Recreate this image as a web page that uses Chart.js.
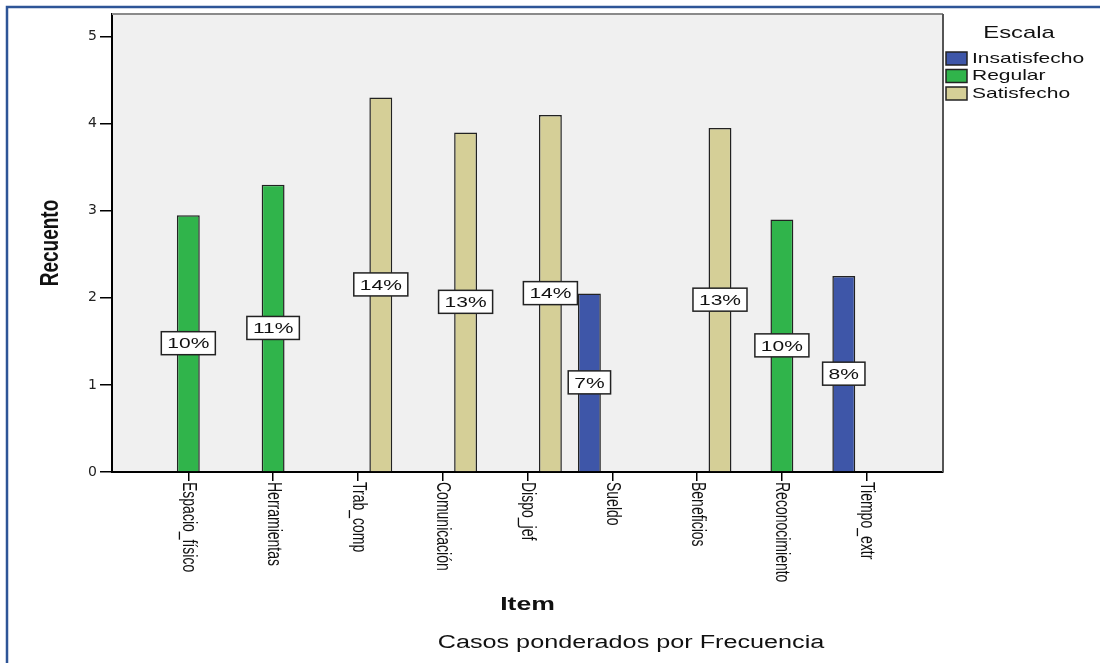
<!DOCTYPE html>
<html>
<head>
<meta charset="utf-8">
<title>Recuento por Item</title>
<script src="https://cdn.jsdelivr.net/npm/chart.js@4.4.1/dist/chart.umd.min.js"></script>
<style>
  body { margin: 0; background: #fff; }
  #wrap { width: 1110px; height: 663px; }
</style>
</head>
<body>
<div id="wrap"><canvas id="grafico" width="1110" height="663"></canvas></div>
<script>
const items = ['Espacio_físico', 'Herramientas', 'Trab_comp', 'Comunicación', 'Dispo_jef', 'Sueldo', 'Beneficios', 'Reconocimiento', 'Tiempo_extr'];
const escalas = ['Insatisfecho', 'Regular', 'Satisfecho'];
const insatisfecho = [null, null, null, null, null, 2.05, null, null, 2.25];
const regular = [2.95, 3.3, null, null, null, null, null, 2.9, null];
const satisfecho = [null, null, 4.3, 3.9, 4.1, null, 3.95, null, null];
const yTicks = [0, 1, 2, 3, 4, 5];
const colores = ['#3e56a8', '#30b44b', '#d5cf97'];

const FUENTE = "'Liberation Sans', Arial, sans-serif";
const ESTIRA = 1.4; // el texto horizontal va ensanchado

// total de casos, para los porcentajes de cada barra
let total = 0;
[insatisfecho, regular, satisfecho].forEach(serie => serie.forEach(v => { if (v !== null) total += v }));

function puntos(serie) {
  let out = [];
  for (let i = 0; i < serie.length; i++) {
    if (serie[i] !== null) out.push({x: i, y: serie[i]});
  }
  return out;
}

function texto(ctx, str, x, y, font, align, angle) {
  ctx.save();
  ctx.translate(x, y);
  ctx.scale(ESTIRA, 1);
  if (angle) ctx.rotate(angle);
  ctx.font = font;
  ctx.textAlign = align;
  ctx.textBaseline = 'middle';
  ctx.fillStyle = '#111';
  ctx.fillText(str, 0, 0);
  ctx.restore();
}

const fondo = {
  id: 'fondo',
  beforeDraw(chart) {
    const ctx = chart.ctx, a = chart.chartArea;
    ctx.save();
    ctx.fillStyle = '#f0f0f0';
    ctx.fillRect(a.left, a.top, a.right - a.left, a.bottom - a.top);
    ctx.restore();
  },
  afterDatasetsDraw(chart) {
    const ctx = chart.ctx;
    chart.data.datasets.forEach((ds, d) => {
      chart.getDatasetMeta(d).data.forEach((bar, j) => {
        const v = ds.data[j].y;
        const str = Math.round(v / total * 100) + '%';
        const cy = (bar.y + bar.base) / 2;
        ctx.save();
        ctx.font = '15px ' + FUENTE;
        const w = ctx.measureText(str).width * ESTIRA + 12;
        ctx.fillStyle = '#fff';
        ctx.fillRect(bar.x - w / 2, cy - 11.5, w, 23);
        ctx.strokeStyle = '#222';
        ctx.lineWidth = 1.5;
        ctx.strokeRect(bar.x - w / 2, cy - 11.5, w, 23);
        ctx.restore();
        texto(ctx, str, bar.x, cy + 1, '15px ' + FUENTE, 'center');
      });
    });
  },
  afterDraw(chart) {
    const ctx = chart.ctx, a = chart.chartArea;
    const xs = chart.scales.x;
    ctx.save();
    // marco gris del area del grafico
    ctx.strokeStyle = '#8a8a8a';
    ctx.lineWidth = 2;
    ctx.beginPath();
    ctx.moveTo(a.left, a.top);
    ctx.lineTo(a.right, a.top);
    ctx.stroke();
    ctx.strokeStyle = '#555';
    ctx.beginPath();
    ctx.moveTo(a.right, a.top);
    ctx.lineTo(a.right, a.bottom);
    ctx.stroke();
    // borde azul exterior
    ctx.strokeStyle = '#2e5597';
    ctx.lineWidth = 2.5;
    ctx.beginPath();
    ctx.moveTo(7, 663);
    ctx.lineTo(7, 7);
    ctx.lineTo(1100, 7);
    ctx.stroke();
    ctx.restore();

    // etiquetas del eje x, verticales hacia abajo
    items.forEach((it, i) => {
      texto(ctx, it, xs.getPixelForValue(i), a.bottom + 10, '14px ' + FUENTE, 'left', Math.PI / 2);
    });
    texto(ctx, 'Recuento', 51, (a.top + a.bottom) / 2, 'bold 19px ' + FUENTE, 'center', -Math.PI / 2);
    texto(ctx, 'Item', (a.left + a.right) / 2, 605, 'bold 19px ' + FUENTE, 'center');
    texto(ctx, 'Casos ponderados por Frecuencia', 631, 643, '18px ' + FUENTE, 'center');

    // leyenda
    texto(ctx, 'Escala', 1019, 33, '17px ' + FUENTE, 'center');
    const ly = [58.5, 76, 93.5];
    escalas.forEach((e, i) => {
      ctx.save();
      ctx.fillStyle = colores[i];
      ctx.fillRect(946, ly[i] - 6.5, 21, 13);
      ctx.strokeStyle = '#222';
      ctx.lineWidth = 1.5;
      ctx.strokeRect(946, ly[i] - 6.5, 21, 13);
      ctx.restore();
      texto(ctx, e, 972, ly[i], '15px ' + FUENTE, 'left');
    });
  }
};

const ctx = document.getElementById('grafico').getContext('2d');
const config = {
  type: 'bar',
  data: {
    datasets: [
      {label: escalas[0], data: puntos(insatisfecho), backgroundColor: colores[0]},
      {label: escalas[1], data: puntos(regular), backgroundColor: colores[1]},
      {label: escalas[2], data: puntos(satisfecho), backgroundColor: colores[2]}
    ]
  },
  options: {
    responsive: false,
    animation: false,
    layout: {padding: {top: 14, left: 12, right: 167, bottom: 0}},
    datasets: {
      bar: {borderColor: '#222', borderWidth: 1.5, categoryPercentage: 0.81, barPercentage: 1.0}
    },
    plugins: {legend: {display: false}, tooltip: {enabled: false}},
    scales: {
      x: {
        type: 'linear',
        min: -0.9,
        max: 8.9,
        offset: false,
        ticks: {display: false, stepSize: 1, includeBounds: false},
        grid: {offset: false, drawOnChartArea: false, drawTicks: true, tickLength: 9, color: '#000', lineWidth: 1.5},
        border: {display: true, color: '#000', width: 2},
        afterFit: s => { s.height = 663 - 472 }
      },
      y: {
        min: 0,
        max: 5.26,
        ticks: {font: {family: 'DejaVu Sans', size: 14}, color: '#222', padding: 3},
        afterBuildTicks: s => { s.ticks = yTicks.map(v => ({value: v})) },
        grid: {drawOnChartArea: false, drawTicks: true, tickLength: 12, color: '#000', lineWidth: 1.5},
        border: {display: true, color: '#000', width: 2},
        afterFit: s => { s.width = 100 }
      }
    }
  },
  plugins: [fondo]
};
const myChart = new Chart(ctx, config);
</script>
</body>
</html>
